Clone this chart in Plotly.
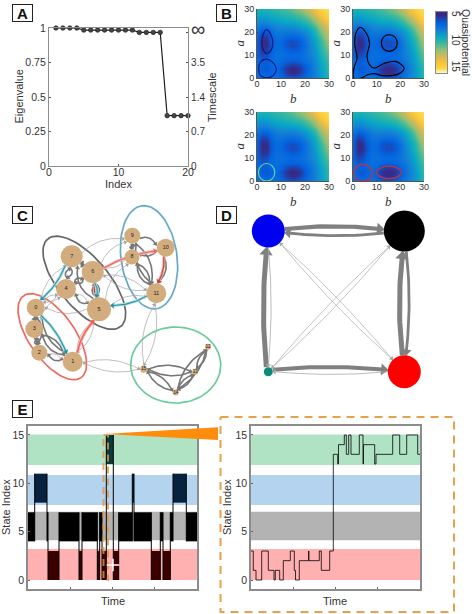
import math
import plotly.graph_objects as go

W, H = 472, 614
GREY = "#8c8c8c"
TXT = "#333333"
FONT = "Liberation Sans, Arial, sans-serif"
SERIF = "Liberation Serif, Times New Roman, serif"

# ---------- Panel A ----------
eig_index = list(range(1, 21))
eig_value = [1, 1, 1, 1, .985, .985, .985, .985, .985, .985, .985, .985, .968, .968, .968, .968, .365, .365, .365, .365]
time_tick_pos = [0, .25, .5, .75, .97]
time_tick_txt = ["0", "0.7", "1.4", "3.5", "<span style='font-size:20px'>∞</span>"]

# ---------- Panel B ----------
grid_axis = list(range(0, 31, 2))
quasi = [
    [7.2, 7.0, 6.8, 7.0, 7.0, 6.8, 6.4, 6.1, 6.1, 6.4, 6.8, 7.3, 7.9, 8.5, 9.2, 9.9],
    [7.0, 6.6, 6.4, 6.6, 6.8, 6.4, 5.6, 5.1, 5.1, 5.6, 6.4, 7.1, 7.8, 8.5, 9.2, 10.0],
    [6.9, 6.3, 6.2, 6.5, 6.8, 6.1, 5.3, 4.8, 4.8, 5.3, 6.2, 7.0, 7.8, 8.5, 9.3, 10.1],
    [6.9, 6.4, 6.4, 6.7, 6.9, 6.6, 6.0, 5.6, 5.6, 6.0, 6.6, 7.2, 7.9, 8.7, 9.4, 10.3],
    [6.8, 6.2, 6.3, 6.8, 7.0, 6.9, 6.7, 6.5, 6.5, 6.7, 7.0, 7.4, 8.1, 8.9, 9.7, 10.6],
    [6.6, 5.7, 5.9, 6.6, 7.0, 7.0, 6.9, 6.8, 6.8, 6.9, 7.2, 7.7, 8.3, 9.1, 10.0, 10.9],
    [6.5, 5.2, 5.4, 6.4, 6.9, 6.9, 6.6, 6.3, 6.3, 6.6, 7.1, 7.8, 8.5, 9.4, 10.3, 11.3],
    [6.4, 5.0, 5.1, 6.2, 6.9, 6.7, 6.2, 5.9, 5.9, 6.3, 7.0, 7.8, 8.7, 9.6, 10.6, 11.6],
    [6.5, 5.0, 5.1, 6.3, 6.9, 6.8, 6.2, 5.9, 6.0, 6.4, 7.1, 8.0, 8.9, 9.8, 10.9, 12.0],
    [6.6, 5.3, 5.5, 6.5, 7.1, 7.0, 6.7, 6.5, 6.6, 6.9, 7.5, 8.3, 9.2, 10.2, 11.3, 12.4],
    [7.0, 6.0, 6.2, 6.9, 7.4, 7.5, 7.4, 7.3, 7.4, 7.7, 8.1, 8.8, 9.7, 10.7, 11.8, 12.9],
    [7.5, 7.0, 7.1, 7.5, 7.9, 8.1, 8.1, 8.1, 8.2, 8.5, 8.9, 9.5, 10.3, 11.4, 12.5, 13.5],
    [8.1, 7.8, 7.9, 8.2, 8.5, 8.7, 8.8, 8.9, 9.0, 9.3, 9.7, 10.3, 11.2, 12.2, 13.3, 14.2],
    [8.7, 8.5, 8.6, 8.9, 9.1, 9.3, 9.5, 9.6, 9.8, 10.1, 10.5, 11.2, 12.1, 13.2, 14.1, 14.7],
    [9.2, 9.1, 9.2, 9.4, 9.6, 9.8, 10.0, 10.2, 10.5, 10.8, 11.3, 12.1, 13.1, 14.0, 14.6, 15.0],
    [9.7, 9.6, 9.7, 9.9, 10.1, 10.3, 10.5, 10.8, 11.1, 11.5, 12.1, 12.9, 13.9, 14.6, 15.0, 15.2],
]
parula_rev = [[0, "#352a87"], [.136, "#0363e1"], [.27, "#1485d4"], [.364, "#06a7c6"], [.48, "#38b99e"],
              [.59, "#92bf73"], [.727, "#d9ba56"], [.836, "#fcc535"], [.91, "#f9d84a"], [1, "#fffbe0"]]
cbar_values = [4.4, 5, 6, 7, 8, 9, 10, 11, 12, 13, 14, 15, 16]

outline_p1a_b = [4.0, 5.7, 6.6, 5.8, 4.0, 2.7, 2.0, 2.6, 4.0]
outline_p1a_a = [21, 19, 15, 12, 10.6, 12, 15, 19, 21]
outline_p1b_b = [3.8, 6.3, 8, 6.5, 3.8, 1.5, 0.7, 1.5, 3.8]
outline_p1b_a = [8.2, 7, 3.8, 0.9, 0.1, 1, 4, 7, 8.2]
outline_p2a_b = [3, 5.3, 7, 5.9, 7, 9, 13.3, 18, 21.6, 19.5, 12.6, 9, 6.3, 3.5, 0.3, 0.4, 1.7, 0.7, 1.4, 3]
outline_p2a_a = [22, 20, 15, 9.6, 5.7, 4.3, 6.4, 7.2, 4.3, 1.9, 1, 1.9, 1.4, 0, 0, 4.3, 8.6, 15, 20, 22]
outline_p2b_b = [15.3, 17.7, 18.7, 17.7, 15.3, 12.9, 12, 12.9, 15.3]
outline_p2b_a = [18.9, 17.8, 15.2, 12.6, 11.6, 12.6, 15.2, 17.8, 18.9]
outline_p3_b = [4, 6.4, 7.4, 6.4, 4, 1.6, 0.6, 1.6, 4]
outline_p3_a = [7.6, 6.5, 3.7, 1, 0, 1, 3.7, 6.5, 7.6]
outline_p4a_b = [4, 7, 8.1, 6.8, 4, 1.3, 0.3, 1.5, 4]
outline_p4a_a = [7.2, 6, 3.2, 0.9, 0, 1, 3.6, 6.2, 7.2]
outline_p4b_b = [15, 19, 20.5, 19, 15, 11.5, 9.8, 11.5, 15]
outline_p4b_a = [6.5, 5.5, 3.7, 1.9, 1, 1.9, 3.7, 5.5, 6.5]

# ---------- Panel C ----------
c_x = [35.7, 72.7, 39.3, 34.3, 66, 99, 92.7, 71.7, 132, 132.3, 165.7, 156.3, 208, 195.3, 175.7, 143.7]
c_y = [307.7, 361.7, 352.7, 329, 289, 309.3, 272, 256.3, 257, 235.7, 247.7, 293.3, 346.7, 371.7, 392.5, 369.3]
c_r = [9, 10, 8, 9, 10, 12, 11, 11, 7.5, 8, 9, 10, 3, 3, 3, 3.5]
c_thick = [(0, 3), (3, 0), (3, 2), (2, 3), (1, 0), (1, 3), (3, 1), (1, 2), (0, 2), (2, 0),
           (4, 7), (7, 4), (5, 6), (6, 5), (4, 6), (6, 4), (7, 6), (6, 7), (5, 7), (5, 4),
           (8, 9), (9, 8), (8, 11), (11, 8), (9, 11), (11, 9), (10, 8), (9, 10), (10, 11),
           (12, 13), (13, 12), (14, 15), (15, 14), (13, 15), (15, 13), (13, 14), (14, 13), (12, 14), (14, 12)]
c_thin = [(7, 9), (0, 7), (5, 11), (5, 1), (1, 5), (2, 1), (1, 15), (15, 1), (11, 15), (15, 11),
          (4, 5), (5, 8), (6, 11), (0, 4), (4, 0), (8, 6), (3, 4), (6, 9), (11, 6), (5, 0)]
c_accent = [(7, 0, "#a8e2e4", "#2f8fa2"), (0, 1, "#a8e2e4", "#2f8fa2"), (1, 5, "#f7a5a0", "#ee5a50"),
            (5, 6, "#f7a5a0", "#b84a44"), (6, 5, "#a8e2e4", "#2f8fa2"), (6, 10, "#f7b5b0", "#e86a60"),
            (10, 11, "#f7a5a0", "#b84a44"), (11, 5, "#a8e2e4", "#2f8fa2")]
# center x, center y, semi-major, semi-minor, tilt in degrees, colour
c_groups = [(84.3, 282.7, 57, 25, 50, "#666666"), (52.3, 336.7, 50, 23, 55, "#ee6a5e"),
            (149, 257.3, 52, 28, 82, "#66a9c9"), (175.7, 365, 45, 38, 0, "#6ccb9c")]

# ---------- Panel D ----------
d_x = [268.3, 404.3, 404.3, 268.3]
d_y = [231, 231, 371.7, 371.7]
d_r = [16.5, 20.5, 16.5, 4.5]
d_col = ["#0000f0", "#000000", "#ff0000", "#0f8a7a"]
d_edges = [(0, 1, 4.2), (1, 0, 2.8), (1, 2, 2.8), (2, 1, 5), (3, 0, 5), (0, 3, .8), (3, 2, 4), (2, 3, .8),
           (0, 2, .7), (2, 0, .7), (1, 3, .7), (3, 1, .7)]

# ---------- Panel E ----------
band_low = [0, 4.1, 7.75, 11.9]
band_high = [3.2, 7.07, 10.85, 15.05]
band_col = ["#ffb0b0", "#b3b3b3", "#b3d3ee", "#b0e2c4"]
block_start = [0, 6.7, 19, 20, 31, 51, 54, 69.3, 71.7, 74, 78.3, 85.3, 90.7, 104.3, 106, 123.3, 132.3, 135, 142.3, 145, 158.3]
block_end = [6.7, 19, 20, 31, 51, 54, 69.3, 71.7, 74, 78.3, 85.3, 90.7, 104.3, 106, 123.3, 132.3, 135, 142.3, 145, 158.3, 169]
block_low = [4, 8, 4, 0, 4, 0, 4, 0, 4, 0, 12, 0, 4, 8, 4, 0, 4, 0, 4, 8, 4]
block_high = [7, 11, 7, 3, 7, 3, 7, 3, 7, 3, 15, 3, 7, 11, 7, 3, 7, 3, 7, 11, 7]
block_col = {0: "#3a0000", 4: "#000000", 8: "#06223f", 12: "#0a3a3a"}
zoom_time = [0, 2.3, 5, 10.7, 17.3, 23, 24.3, 28.7, 32.3, 39.3, 43.3, 44.5, 48.3, 57.6, 57.9, 68.3, 70.3, 78.7, 82.3,
             86.7, 87.5, 93.3, 95.3, 97.7, 100, 108.3, 112, 112.5, 123.7, 125, 141.7, 148.7, 155.7, 166.7, 169]
zoom_state = [3, 1, 0, 3, 1, 0, 1, 0, 2, 3, 1, 0, 2, 3, 2, 3, 1, 3, 13,
              12, 14, 15, 13, 15, 13, 15, 12, 14, 12, 13, 15, 13, 15, 13, 13]

fig = go.Figure()


def dx(l, r):
    return [l / W, r / W]


def dy(t, b):
    return [1 - b / H, 1 - t / H]


layout = dict(template="none", width=W, height=H, margin=dict(l=0, r=0, t=0, b=0), autosize=False, paper_bgcolor="white",
              plot_bgcolor="rgba(0,0,0,0)", showlegend=False, font=dict(family=FONT, color=TXT, size=10))
annots = []


def lab(text, x, y, angle=0, size=11, family=FONT):
    annots.append(dict(text=text, x=x, y=y, xref="x10", yref="y10", showarrow=False, textangle=angle,
                       font=dict(size=size, family=family, color=TXT)))


# ---- A ----
frame = dict(showline=True, linecolor=GREY, linewidth=1.2, ticks="inside", ticklen=2, tickcolor="#555",
             showgrid=False, zeroline=False, automargin=False)
layout["xaxis"] = dict(domain=dx(49, 188), range=[0, 20], tickvals=[0, 10, 20], anchor="y", mirror=True, **frame,
                       tickfont=dict(size=10.5), ticklabelstandoff=-4)
layout["yaxis"] = dict(domain=dy(28, 166), range=[0, 1], tickvals=[0, .25, .5, .75, 1],
                       ticktext=["0", "0.25", "0.5", "0.75", "1"], anchor="x", **frame, tickfont=dict(size=10.5))
layout["yaxis2"] = dict(domain=dy(28, 166), range=[0, 1], tickvals=time_tick_pos, ticktext=time_tick_txt,
                        anchor="x", overlaying="y", side="right", **frame, tickfont=dict(size=10))
fig.add_trace(go.Scatter(x=eig_index, y=eig_value, mode="lines+markers", xaxis="x", yaxis="y",
                         line=dict(color="#222", width=1.2),
                         marker=dict(size=4.5, color="#444", line=dict(color="#222", width=0.7)), cliponaxis=False))
fig.add_trace(go.Scatter(x=[], y=[], xaxis="x", yaxis="y2"))
lab("Index", 118, 184)
lab("Eigenvalue", 18.5, 97, -90)
lab("Timescale", 212, 97, -90)

# ---- B ----
panels = [(2, 257, 329, 9, 78, [(outline_p1a_b, outline_p1a_a, "#0a1a8a"), (outline_p1b_b, outline_p1b_a, "#0a1a8a")]),
          (3, 353, 424, 9, 78, [(outline_p2a_b, outline_p2a_a, "#000"), (outline_p2b_b, outline_p2b_a, "#000")]),
          (4, 257, 329, 112, 181, [(outline_p3_b, outline_p3_a, "#5fd0a0")]),
          (5, 353, 424, 112, 181, [(outline_p4a_b, outline_p4a_a, "#c8303a"), (outline_p4b_b, outline_p4b_a, "#c8303a")])]
for n, l, r, t, b, outl in panels:
    ya = n + 1  # y2 is taken by panel A
    layout[f"xaxis{n}"] = dict(domain=dx(l, r), range=[0, 30], tickvals=[0, 10, 20, 30], anchor=f"y{ya}", showgrid=False,
                               zeroline=False, showline=True, linecolor="#555", linewidth=.8, ticks="inside", ticklen=1,
                               tickfont=dict(size=9), ticklabelstandoff=-3, automargin=False)
    layout[f"yaxis{ya}"] = dict(domain=dy(t, b), range=[0, 30], tickvals=[0, 10, 20, 30], anchor=f"x{n}", showgrid=False,
                                zeroline=False, showline=True, linecolor="#555", linewidth=.8, ticks="inside", ticklen=1,
                                tickfont=dict(size=9), automargin=False)
    fig.add_trace(go.Heatmap(x=grid_axis, y=grid_axis, z=quasi, zmin=5, zmax=16, colorscale=parula_rev, zsmooth="best",
                             showscale=False, xaxis=f"x{n}", yaxis=f"y{ya}"))
    for ox, oy, col in outl:
        fig.add_trace(go.Scatter(x=ox, y=oy, mode="lines", xaxis=f"x{n}", yaxis=f"y{ya}", cliponaxis=False,
                                 line=dict(color=col, width=1.2, shape="spline", smoothing=1)))
    lab("<i>b</i>", (l + r) / 2, b + 20, 0, 13, SERIF)
    lab("<i>a</i>", l - 18, (t + b) / 2, -90, 13, SERIF)

# colour bar
layout["xaxis6"] = dict(domain=dx(436, 447), range=[0, 1], anchor="y7", showticklabels=False, ticks="", showline=True,
                        linecolor=GREY, linewidth=1, mirror=True, showgrid=False, zeroline=False, automargin=False)
layout["yaxis7"] = dict(domain=dy(12, 73), range=[16, 4.4], anchor="x6", side="right", tickvals=[5, 10, 15], tickangle=90,
                        showline=True, linecolor=GREY, linewidth=1, mirror=True, ticks="", showgrid=False, zeroline=False,
                        tickfont=dict(size=10), automargin=False)
fig.add_trace(go.Heatmap(x=[0, 1], y=cbar_values, z=[[v, v] for v in cbar_values], zmin=5, zmax=16,
                         colorscale=parula_rev, zsmooth="best", showscale=False, xaxis="x6", yaxis="y7"))
lab("Quasipotential", 466, 42, 90, 10.5)

# ---- E ----
e_y = dict(range=[-0.93, 15.93], tickvals=[0, 5, 10, 15], showgrid=False, zeroline=False, showline=True, linecolor=GREY,
           linewidth=1.5, mirror=True, ticks="inside", ticklen=2, tickcolor="#666", tickfont=dict(size=10.5), automargin=False)
e_x = dict(range=[0, 169], tickvals=[42, 84, 126], showticklabels=False, showgrid=False, zeroline=False, showline=True,
           linecolor=GREY, linewidth=1.5, mirror=True, ticks="inside", ticklen=2, tickcolor="#666", automargin=False)
layout["xaxis8"] = dict(domain=dx(28, 197), anchor="y8", **e_x)
layout["yaxis8"] = dict(domain=dy(426, 589), anchor="x8", **e_y)
layout["xaxis9"] = dict(domain=dx(251, 420), anchor="y9", **e_x)
layout["yaxis9"] = dict(domain=dy(426, 589), anchor="x9", **e_y)
lab("Time", 113, 601)
lab("Time", 335, 601)
lab("State Index", 6, 507, -90)
lab("State Index", 227, 507, -90)
for n in (8, 9):
    for lo, hi, col in zip(band_low, band_high, band_col):
        fig.add_trace(go.Scatter(x=[0, 169, 169, 0, 0], y=[lo, lo, hi, hi, lo], mode="lines", fill="toself", fillcolor=col,
                                 line=dict(width=0), xaxis=f"x{n}", yaxis=f"y{n}"))
# occupancy blocks (left panel)
for s, e, lo, hi in zip(block_start, block_end, block_low, block_high):
    fig.add_trace(go.Scatter(x=[s, e, e, s, s], y=[lo, lo, hi, hi, lo], mode="lines", fill="toself",
                             fillcolor=block_col[lo], line=dict(width=0), xaxis="x8", yaxis="y8"))
tx, ty = [], []
for i in range(1, len(block_start)):
    tx += [block_start[i], block_start[i], None]
    ty += [min(block_low[i], block_low[i - 1]), max(block_high[i], block_high[i - 1]), None]
fig.add_trace(go.Scatter(x=tx, y=ty, mode="lines", line=dict(color="#000", width=1), xaxis="x8", yaxis="y8"))
# zoomed trajectory (right panel)
fig.add_trace(go.Scatter(x=zoom_time, y=zoom_state, mode="lines", line=dict(color="rgba(0,0,0,.78)", width=1, shape="hv"),
                         xaxis="x9", yaxis="y9"))

# ---- canvas axes in page pixels, for the network diagrams and annotations ----
layout["xaxis10"] = dict(domain=[0, 1], range=[0, W], anchor="y10", visible=False, automargin=False)
layout["yaxis10"] = dict(domain=[0, 1], range=[H, 0], anchor="x10", visible=False, automargin=False)


def curve(x0, y0, x1, y1, r0, r1, curv, off):
    d = math.hypot(x1 - x0, y1 - y0)
    ux, uy = (x1 - x0) / d, (y1 - y0) / d
    sx, sy = x0 + ux * r0 + uy * off, y0 + uy * r0 - ux * off
    ex, ey = x1 - ux * r1 + uy * off, y1 - uy * r1 - ux * off
    mx, my = (sx + ex) / 2 + uy * curv * d, (sy + ey) / 2 - ux * curv * d
    xs, ys = [], []
    for k in range(25):
        t = k / 24
        xs.append((1 - t) ** 2 * sx + 2 * t * (1 - t) * mx + t * t * ex)
        ys.append((1 - t) ** 2 * sy + 2 * t * (1 - t) * my + t * t * ey)
    ang = math.degrees(math.atan2(ex - mx, -(ey - my)))
    return xs, ys, ang


def draw_edges(edges, X, Y, R, color, width, curv, head, off=0):
    lx, ly, hx, hy, ha = [], [], [], [], []
    for a, b in edges:
        xs, ys, ang = curve(X[a], Y[a], X[b], Y[b], R[a], R[b] + head * .4, curv, off)
        lx += xs + [None]
        ly += ys + [None]
        hx.append(xs[-1])
        hy.append(ys[-1])
        ha.append(ang)
    fig.add_trace(go.Scatter(x=lx, y=ly, mode="lines", line=dict(color=color, width=width), xaxis="x10", yaxis="y10"))
    fig.add_trace(go.Scatter(x=hx, y=hy, mode="markers", xaxis="x10", yaxis="y10",
                             marker=dict(symbol="triangle-up", size=head, angle=ha, color=color, opacity=1, line=dict(width=0))))


# C
for cx, cy, a, b, tilt, col in c_groups:
    pts = [i * 2 * math.pi / 72 for i in range(73)]
    th = math.radians(tilt)
    ex = [cx + a * math.cos(p) * math.cos(th) - b * math.sin(p) * math.sin(th) for p in pts]
    ey = [cy + a * math.cos(p) * math.sin(th) + b * math.sin(p) * math.cos(th) for p in pts]
    fig.add_trace(go.Scatter(x=ex, y=ey, mode="lines", line=dict(color=col, width=1.7), xaxis="x10", yaxis="y10"))
draw_edges(c_thin, c_x, c_y, c_r, "#a3a3a3", .7, .16, 4)
draw_edges(c_thick, c_x, c_y, c_r, "#777777", 1.6, .2, 4.5)
for a, b, pale, core in c_accent:
    draw_edges([(a, b)], c_x, c_y, c_r, pale, 3, .08, 6)
    draw_edges([(a, b)], c_x, c_y, c_r, core, 1.1, .08, 5)
fig.add_trace(go.Scatter(x=c_x, y=c_y, mode="markers+text", xaxis="x10", yaxis="y10",
                         text=[str(i) for i in range(len(c_x))], textposition="middle center",
                         textfont=dict(size=[5.5] * 12 + [4.5] * 4, color="#222"),
                         marker=dict(size=[2 * r for r in c_r], color="#d2ac7c", opacity=1, line=dict(width=0))))
# D
for a, b, w in d_edges:
    thin = w < 1
    diag = abs(a - b) == 2
    draw_edges([(a, b)], d_x, d_y, d_r, "#aaaaaa" if thin else "#808080", w, .03 if diag else .04,
               4.5 if thin else 5 + 1.3 * w, 0 if thin else 2)
fig.add_trace(go.Scatter(x=d_x, y=d_y, mode="markers", xaxis="x10", yaxis="y10",
                         marker=dict(size=[2 * r for r in d_r], color=d_col, opacity=1, line=dict(width=0))))

# zoom wedge, dashed selections, white cross
fig.add_trace(go.Scatter(x=[104, 218, 218, 104], y=[434, 427.3, 440, 434], mode="lines", fill="toself", fillcolor="#ff8c0a",
                         line=dict(width=0), xaxis="x10", yaxis="y10"))
fig.add_trace(go.Scatter(x=[103.5, 108, 108, 103.5, 103.5], y=[435, 435, 580, 580, 435], mode="lines",
                         line=dict(color="rgba(226,150,70,.8)", width=2, dash="7px,5px"), xaxis="x10", yaxis="y10"))
fig.add_trace(go.Scatter(x=[220.5, 454, 454, 220.5, 220.5], y=[417, 417, 612, 612, 417], mode="lines",
                         line=dict(color="#e9a04e", width=2, dash="8px,6px"), xaxis="x10", yaxis="y10", cliponaxis=False))
fig.add_trace(go.Scatter(x=[113], y=[565], mode="markers", xaxis="x10", yaxis="y10",
                         marker=dict(symbol="cross-thin", size=9, line=dict(color="white", width=1.5))))

for txt, x, y in [("A", 22.2, 12.5), ("B", 226, 12.5), ("C", 22.2, 214.5), ("D", 226, 214.5), ("E", 22.2, 409)]:
    annots.append(dict(text=f"<b>{txt}</b>", x=x, y=y, xref="x10", yref="y10", showarrow=False, width=17, height=14,
                       bordercolor="#222", borderwidth=1, borderpad=1, bgcolor="white", font=dict(size=15, color="#111")))
layout["annotations"] = annots
fig.update_layout(**layout)
fig.write_html("out.html", config={"displayModeBar": False},
               post_script="document.body.style.margin='0';document.body.style.overflow='hidden';")
